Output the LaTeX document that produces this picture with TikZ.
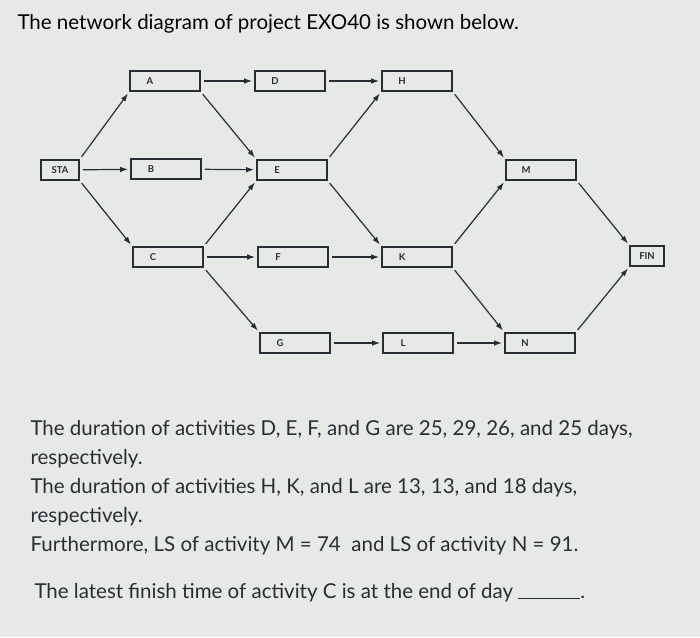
\documentclass[tikz,border=0pt]{standalone}
\usepackage{fontspec}
\setmainfont{Lato}
\usetikzlibrary{arrows.meta}
\definecolor{bg}{HTML}{E6E9E6}
\definecolor{ink}{HTML}{2A2D33}
\begin{document}
\begin{tikzpicture}[x=1pt,y=-1pt,
  act/.style={draw=ink,line width=1.6pt,minimum width=70pt,minimum height=20pt,inner sep=0pt,font=\fontsize{9.5}{9.5}\selectfont\bfseries,text=ink},
  sm/.style={act,minimum width=38pt},
  con/.style={-{Latex[length=8pt,width=5.5pt]},draw=ink,line width=1.2pt,shorten <=3pt,shorten >=2pt}]
\fill[bg] (0,0) rectangle (700,637);
\useasboundingbox (0,0) rectangle (700,637);
\node[anchor=west,font=\fontsize{20.5}{20.5}\selectfont,text=black] (title) at (14,24) {The network diagram of project EXO40 is shown below.};
\node[sm] (sta) at (60,170) {STA};
\node[act] (a) at (165,81) {\hspace*{-30pt}A};
\node[act] (d) at (290,81) {\hspace*{-30pt}D};
\node[act] (h) at (417,81) {\hspace*{-30pt}H};
\node[act] (b) at (166,169) {\hspace*{-30pt}B};
\node[act] (e) at (292,170) {\hspace*{-30pt}E};
\node[act] (m) at (541,170) {\hspace*{-30pt}M};
\node[act] (c) at (168,257) {\hspace*{-30pt}C};
\node[act] (f) at (293,257) {\hspace*{-30pt}F};
\node[act] (k) at (417,257) {\hspace*{-30pt}K};
\node[sm,minimum width=34pt] (fin) at (647,256) {FIN};
\node[act] (g) at (295,343) {\hspace*{-30pt}G};
\node[act] (l) at (418,343) {\hspace*{-30pt}L};
\node[act] (n) at (540,343) {\hspace*{-30pt}N};
% straight
\draw[con] (sta) -- (b);
\draw[con] (a) -- (d);
\draw[con] (d) -- (h);
\draw[con] (b) -- (e);
\draw[con] (c) -- (f);
\draw[con] (f) -- (k);
\draw[con] (g) -- (l);
\draw[con] (l) -- (n);
% diagonals up
\draw[con] (sta.north east) -- (a.south west);
\draw[con] (c.north east) -- (e.south west);
\draw[con] (e.north east) -- (h.south west);
\draw[con] (k.north east) -- (m.south west);
\draw[con] (n.north east) -- (fin.south west);
% diagonals down
\draw[con] (sta.south east) -- (c.north west);
\draw[con] (a.south east) -- (e.north west);
\draw[con] (c.south east) -- (g.north west);
\draw[con] (e.south east) -- (k.north west);
\draw[con] (h.south east) -- (m.north west);
\draw[con] (k.south east) -- (n.north west);
\draw[con] (m.south east) -- (fin.north west);
\node[anchor=north west,align=left,font=\fontsize{20.5}{29}\selectfont,text=ink] (txt) at (27,417) {The duration of activities D, E, F, and G are 25, 29, 26, and 25 days,\\ respectively.\\ The duration of activities H, K, and L are 13, 13, and 18 days,\\ respectively.\\ Furthermore, LS of activity M = 74 \ and LS of activity N = 91.};
\node[anchor=west,font=\fontsize{20.5}{20.5}\selectfont,text=ink] (q) at (31,593) {The latest finish time of activity C is at the end of day \rule{62pt}{0.4pt}.};
\end{tikzpicture}
\end{document}
